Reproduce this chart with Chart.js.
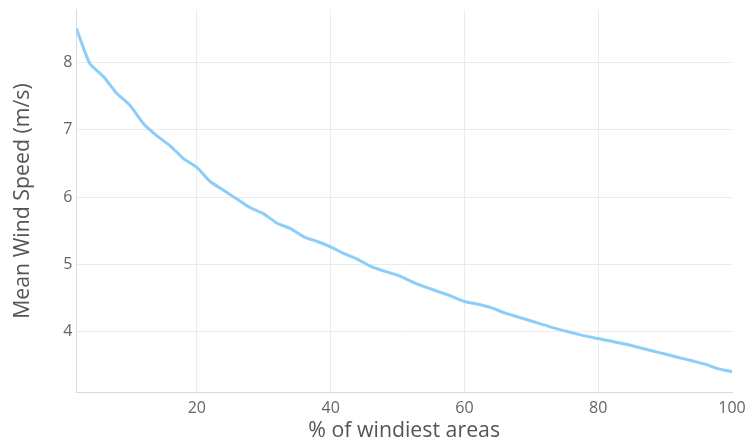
<!DOCTYPE html>
<html>
<head>
<meta charset="utf-8">
<script src="https://cdn.jsdelivr.net/npm/chart.js@4/dist/chart.umd.min.js"></script>
<style>
html,body{margin:0;padding:0;background:#fff;}
#wrap{width:749px;height:442px;}
</style>
</head>
<body>
<div id="wrap"><canvas id="c" width="749" height="442"></canvas></div>
<script>
const xValues = [2,4,6,8,10,12,14,16,18,20,22,24,26,28,30,32,34,36,38,40,42,44,46,48,50,52,54,56,58,60,62,64,66,68,70,72,74,76,78,80,82,84,86,88,90,92,94,96,98,100];
const windSpeed = [8.50,7.98,7.79,7.54,7.36,7.09,6.91,6.76,6.57,6.44,6.23,6.10,5.97,5.84,5.75,5.61,5.53,5.41,5.34,5.26,5.16,5.08,4.97,4.90,4.84,4.75,4.67,4.60,4.53,4.45,4.41,4.36,4.28,4.22,4.16,4.10,4.04,3.99,3.94,3.90,3.86,3.82,3.77,3.72,3.67,3.62,3.57,3.52,3.45,3.41];
const xTicks = [20,40,60,80,100];
const yTicks = [4,5,6,7,8];

const points = xValues.map((x,i)=>({x:x,y:windSpeed[i]}));

new Chart(document.getElementById('c'), {
  type: 'line',
  data: { datasets: [{
    data: points,
    borderColor: 'rgb(140,205,250)',
    borderWidth: 3,
    pointRadius: 0,
    tension: 0.2,
    fill: false
  }]},
  options: {
    responsive: false,
    animation: false,
    devicePixelRatio: 1,
    layout: { padding: { left: 12, right: 0, top: 0, bottom: 0 } },
    plugins: { legend: { display: false }, tooltip: { enabled: false } },
    scales: {
      x: {
        type: 'linear', min: 2, max: 100,
        afterBuildTicks: s => { s.ticks = xTicks.map(v=>({value:v})); },
        afterFit: s => { s.paddingRight = 17; },
        grid: { color: ctx => (ctx.tick && ctx.tick.value === 100) ? 'rgba(0,0,0,0)' : '#ebebeb', lineWidth: 1, drawTicks: false },
        border: { color: '#dadada', width: 1 },
        ticks: { color: '#666', font: { family: 'Open Sans', size: 16 }, padding: 6, maxRotation: 0 },
        title: { display: true, text: '% of windiest areas', color: '#555', font: { family: 'Open Sans', size: 21.3, lineHeight: 1.0 }, padding: { top: -3, bottom: 0 } }
      },
      y: {
        min: 3.1, max: 8.78,
        afterBuildTicks: s => { s.ticks = yTicks.map(v=>({value:v})); },
        grid: { color: '#ebebeb', lineWidth: 1, drawTicks: false },
        border: { color: '#dadada', width: 1 },
        ticks: { color: '#666', font: { family: 'Open Sans', size: 16, lineHeight: 0.7 }, padding: 4 },
        title: { display: true, text: 'Mean Wind Speed (m/s)', color: '#555', font: { family: 'Open Sans', size: 21.3, lineHeight: 1.0 }, padding: { top: 0, bottom: 26 } }
      }
    }
  }
});
</script>
</body>
</html>
